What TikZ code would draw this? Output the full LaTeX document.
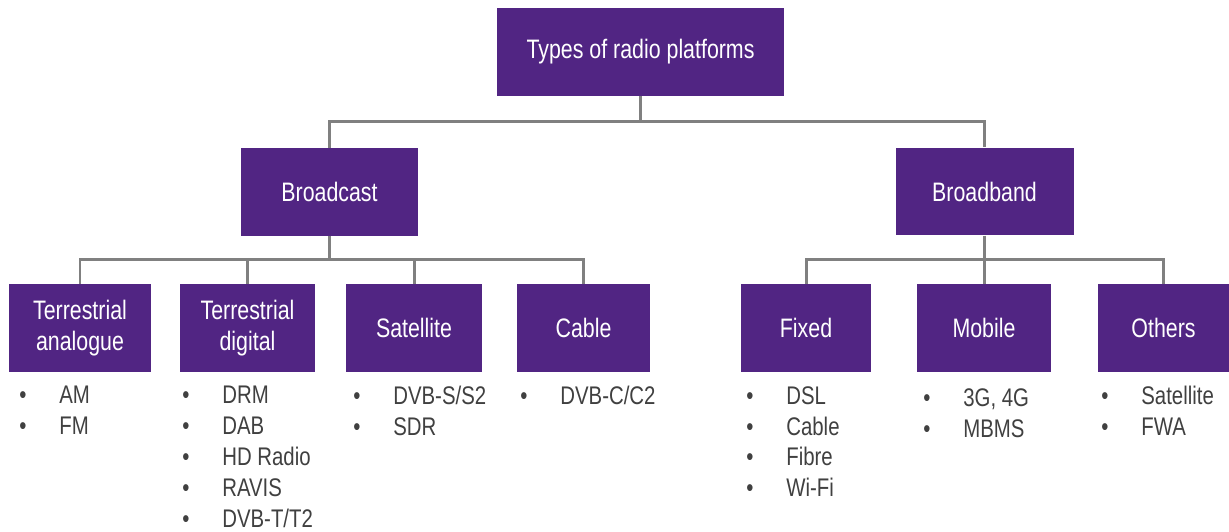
\documentclass[tikz,border=0pt]{standalone}
\usepackage{fontspec}
\setmainfont[FakeStretch=0.8]{Liberation Sans}
\usepackage{tikz}
\usetikzlibrary{positioning, calc}
\definecolor{rpurple}{RGB}{81,37,131}
\definecolor{rgrey}{RGB}{128,128,128}
\definecolor{rtext}{RGB}{64,64,64}
\newcommand{\itm}[1]{\makebox[0.8cm][l]{\textbullet}#1}

\begin{document}
\begin{tikzpicture}[x=0.02cm, y=-0.02cm,
  box/.style={rectangle, fill=rpurple, text=white, minimum height=1.76cm, inner sep=0pt, align=center, font=\fontsize{15.2}{18}\selectfont},
  list/.style={anchor=north west, inner sep=0pt, align=left, text=rtext, font=\fontsize{14.5}{17.6}\selectfont},
  link/.style={draw=rgrey, line width=1.7pt}
]
\useasboundingbox (0,0) rectangle (1229,531);
% boxes
\node[box, minimum width=5.74cm] (root) at (640.5,52) {Types of radio platforms};
\node[box, minimum width=3.56cm] (bcast) at (329.5,192) {Broadcast};
\node[box, minimum width=3.56cm] (bband) at (984.5,191.5) {Broadband};
\node[box, minimum width=2.84cm] (tana) at (80,328) {Terrestrial\\analogue};
\node[box, minimum width=2.70cm] (tdig) at (247.5,328) {Terrestrial\\digital};
\node[box, minimum width=2.72cm] (sat) at (414,328) {Satellite};
\node[box, minimum width=2.66cm] (cable) at (583.5,328) {Cable};
\node[box, minimum width=2.60cm] (fixed) at (806,328) {Fixed};
\node[box, minimum width=2.68cm] (mobile) at (984,328) {Mobile};
\node[box, minimum width=2.62cm] (others) at (1163.5,328) {Others};
% lists
\node[list] (ltana) at (19,386) {\itm{AM}\\\itm{FM}};
\node[list] (ltdig) at (182,386) {\itm{DRM}\\\itm{DAB}\\\itm{HD Radio}\\\itm{RAVIS}\\\itm{DVB-T/T2}};
\node[list] (lsat) at (353,386) {\itm{DVB-S/S2}\\\itm{SDR}};
\node[list] (lcable) at (520,386) {\itm{DVB-C/C2}};
\node[list] (lfixed) at (746,386) {\itm{DSL}\\\itm{Cable}\\\itm{Fibre}\\\itm{Wi-Fi}};
\node[list] (lmobile) at (923,388) {\itm{3G, 4G}\\\itm{MBMS}};
\node[list] (lothers) at (1101,386) {\itm{Satellite}\\\itm{FWA}};
% connectors
\draw[link] (root.south) -- ++(0,25) -| (bcast.north);
\draw[link] (root.south) -- ++(0,25) -| (bband.north);
\foreach \n in {tana, tdig, sat, cable}
  \draw[link] (bcast.south) -- ++(0,23) -| (\n.north);
\foreach \n in {fixed, mobile, others}
  \draw[link] (bband.south) -- ++(0,23.5) -| (\n.north);
\end{tikzpicture}
\end{document}
